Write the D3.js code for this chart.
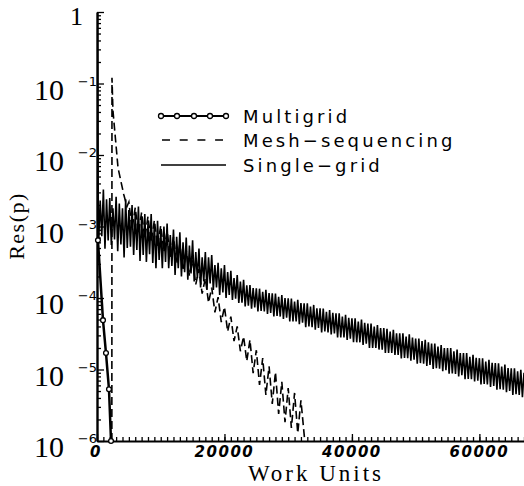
<!DOCTYPE html>
<html>
<head>
<meta charset="UTF-8">
<title>Res(p) vs Work Units</title>
<style>
  body { margin: 0; background: #fff; }
  svg { display: block; }
</style>
</head>
<body>
<div id="chart"></div>
<script src="https://d3js.org/d3.v7.min.js"></script>
<script>
// Multigrid (line with circles)
var mgWork = [0, 150, 940, 1410, 1880, 2200];
var mgRes = [1, 6.4e-4, 4.9e-5, 1.7e-5, 5.3e-6, 1.0e-6];

// Mesh-sequencing (dashed)
var msWork = [2330, 2350, 2500, 2800, 3300, 3700, 4200, 4700,
  5000, 5500, 6000, 6500, 7000, 7500, 8000, 8500, 9000, 9500,
  10000, 10500, 11000, 11500, 12000, 12500, 13000, 13500, 14000, 14500,
  15000, 15500, 16000, 16500, 17000, 17500, 18000, 18500, 19000, 19500,
  20000, 20500, 21000, 21500, 22000, 22500, 23000, 23500, 24000, 24500,
  25000, 25500, 26000, 26500, 27000, 27500, 28000, 28500, 29000, 29500,
  30000, 30500, 31000, 31500, 32000, 32600];
var msRes = [1.0e-6, 0.12, 0.042, 0.021, 6.6e-3, 4.5e-3, 2.8e-3, 1.9e-3,
  2.2e-3, 9.1e-4, 1.84e-3, 7.9e-4, 1.57e-3, 6.8e-4, 1.38e-3, 6.0e-4, 1.22e-3, 5.2e-4,
  1.03e-3, 4.4e-4, 8.7e-4, 3.7e-4, 7.1e-4, 3.0e-4, 5.7e-4, 2.4e-4, 4.6e-4, 2.05e-4,
  3.4e-4, 1.55e-4, 2.55e-4, 1.15e-4, 1.89e-4, 8.6e-5, 1.40e-4, 6.3e-5, 1.03e-4, 4.6e-5,
  7.5e-5, 3.4e-5, 5.5e-5, 2.5e-5, 4.0e-5, 1.8e-5, 2.9e-5, 1.31e-5, 2.6e-5, 8.9e-6,
  1.86e-5, 6.1e-6, 1.44e-5, 4.4e-6, 1.11e-5, 3.3e-6, 9.2e-6, 2.4e-6, 6.7e-6, 1.84e-6,
  5.5e-6, 1.52e-6, 4.7e-6, 1.29e-6, 3.7e-6, 1.0e-6];

// Single-grid (thin solid): peaks every 500 work units, troughs half way between
var sgStep = 500;
var sgPeaks = [3.2e-3, 2.3e-3, 3.3e-3, 2.4e-3, 2.5e-3, 1.8e-3, 2.6e-3, 2.1e-3, 1.8e-3, 2.4e-3, 1.7e-3,
  2.0e-3, 1.5e-3, 1.9e-3, 1.4e-3, 1.5e-3, 1.1e-3, 1.5e-3, 1.1e-3, 1.2e-3, 8.9e-4, 1.0e-3, 1.1e-3,
  7.6e-4, 9.1e-4, 7.2e-4, 8.3e-4,
  6.0e-4, 7.0e-4, 5.4e-4, 6.4e-4, 4.4e-4, 4.9e-4, 3.7e-4, 4.4e-4, 3.7e-4, 4.0e-4, 2.9e-4,
  3.1e-4, 2.6e-4, 2.9e-4, 2.3e-4, 2.4e-4, 1.9e-4, 2.1e-4, 1.7e-4, 1.8e-4, 1.5e-4,
  1.52e-4, 1.38e-4, 1.37e-4, 1.35e-4, 1.22e-4, 1.30e-4, 1.17e-4, 1.16e-4, 1.15e-4, 1.04e-4,
  1.10e-4, 1.00e-4, 9.9e-5, 9.8e-5, 8.9e-5, 9.4e-5, 8.5e-5, 8.4e-5, 8.4e-5, 7.6e-5,
  8.0e-5, 7.2e-5, 7.2e-5, 7.1e-5, 6.4e-5, 6.8e-5, 6.2e-5, 6.1e-5, 6.1e-5, 5.5e-5,
  5.8e-5, 5.3e-5, 5.2e-5, 5.2e-5, 4.7e-5, 5.0e-5, 4.5e-5, 4.4e-5, 4.4e-5, 4.0e-5,
  4.2e-5, 3.8e-5, 3.8e-5, 3.7e-5, 3.4e-5, 3.6e-5, 3.2e-5, 3.2e-5, 3.2e-5, 2.9e-5,
  3.1e-5, 2.8e-5, 2.7e-5, 2.7e-5, 2.5e-5, 2.6e-5, 2.4e-5, 2.3e-5, 2.3e-5, 2.1e-5,
  2.2e-5, 2.0e-5, 2.0e-5, 2.0e-5, 1.8e-5, 1.9e-5, 1.7e-5, 1.7e-5, 1.7e-5, 1.5e-5,
  1.6e-5, 1.46e-5, 1.44e-5, 1.43e-5, 1.29e-5, 1.37e-5, 1.24e-5, 1.23e-5, 1.22e-5, 1.10e-5,
  1.17e-5, 1.05e-5, 1.04e-5, 1.04e-5, 9.4e-6, 9.9e-6, 9.0e-6];
var sgTroughs = [5.9e-4, 7.3e-4, 4.9e-4, 6.4e-4, 5.5e-4, 6.6e-4, 4.5e-4, 5.6e-4, 3.7e-4, 5.0e-4, 5.2e-4,
  4.0e-4, 4.7e-4, 3.3e-4, 4.0e-4, 3.2e-4, 4.1e-4, 3.1e-4, 2.6e-4, 3.4e-4, 2.6e-4, 3.2e-4, 2.6e-4,
  2.8e-4, 2.1e-4, 2.6e-4, 2.0e-4,
  2.3e-4, 1.8e-4, 2.2e-4, 1.7e-4, 1.9e-4, 1.4e-4, 1.7e-4, 1.3e-4, 1.6e-4, 1.3e-4, 1.4e-4,
  1.1e-4, 1.2e-4, 1.0e-4, 1.1e-4, 9.4e-5, 9.8e-5, 8.5e-5, 8.6e-5, 7.6e-5, 7.8e-5,
  7.1e-5, 7.4e-5, 6.5e-5, 6.6e-5, 6.5e-5, 6.0e-5, 6.2e-5, 5.5e-5, 5.6e-5, 5.5e-5,
  5.1e-5, 5.3e-5, 4.7e-5, 4.7e-5, 4.7e-5, 4.3e-5, 4.5e-5, 3.9e-5, 4.0e-5, 3.9e-5,
  3.6e-5, 3.8e-5, 3.3e-5, 3.4e-5, 3.3e-5, 3.1e-5, 3.2e-5, 2.8e-5, 2.8e-5, 2.8e-5,
  2.6e-5, 2.7e-5, 2.4e-5, 2.4e-5, 2.4e-5, 2.2e-5, 2.3e-5, 2.0e-5, 2.0e-5, 2.0e-5,
  1.9e-5, 1.9e-5, 1.7e-5, 1.7e-5, 1.7e-5, 1.6e-5, 1.6e-5, 1.43e-5, 1.45e-5, 1.44e-5,
  1.33e-5, 1.37e-5, 1.21e-5, 1.23e-5, 1.21e-5, 1.12e-5, 1.16e-5, 1.02e-5, 1.04e-5, 1.03e-5,
  9.5e-6, 9.8e-6, 8.7e-6, 8.8e-6, 8.7e-6, 8.0e-6, 8.3e-6, 7.3e-6, 7.4e-6, 7.3e-6,
  6.8e-6, 7.0e-6, 6.2e-6, 6.3e-6, 6.2e-6, 5.7e-6, 5.9e-6, 5.2e-6, 5.3e-6, 5.2e-6,
  4.8e-6, 5.0e-6, 4.4e-6, 4.5e-6, 4.4e-6, 4.1e-6];

var yDecades = [1, 1e-1, 1e-2, 1e-3, 1e-4, 1e-5, 1e-6];
var yExponents = ["", "\u22121", "\u22122", "\u22123", "\u22124", "\u22125", "\u22126"];
var xTicks = [0, 20000, 40000, 60000];
var legendNames = ["Multigrid", "Mesh\u2212sequencing", "Single\u2212grid"];

var width = 524, height = 486;

var x = d3.scaleLinear().domain([0, 67000]).range([97, 524]);
var y = d3.scaleLog().domain([1e-6, 1]).range([441, 12]);

var svg = d3.select("#chart").append("svg")
    .attr("width", width)
    .attr("height", height);

svg.append("clipPath").attr("id", "plotclip")
    .append("rect")
    .attr("x", 97).attr("y", 12)
    .attr("width", 427).attr("height", 430);

var line = d3.line()
    .x(function(d) { return x(d[0]); })
    .y(function(d) { return y(d[1]); });

// single-grid points
var sgPts = [];
sgPeaks.forEach(function(v, i) {
    sgPts.push([i * sgStep, v]);
    if (i < sgTroughs.length) sgPts.push([i * sgStep + sgStep / 2, sgTroughs[i]]);
});
var msPts = msWork.map(function(w, i) { return [w, msRes[i]]; });
var mgPts = mgWork.map(function(w, i) { return [w, mgRes[i]]; });

var plot = svg.append("g").attr("clip-path", "url(#plotclip)");

plot.append("path")
    .datum(sgPts)
    .attr("fill", "none")
    .attr("stroke", "#000")
    .attr("stroke-width", 1.6)
    .attr("d", line);

plot.append("path")
    .datum(msPts)
    .attr("fill", "none")
    .attr("stroke", "#000")
    .attr("stroke-width", 1.6)
    .attr("stroke-dasharray", "8,4")
    .attr("d", line);

plot.append("path")
    .datum(mgPts)
    .attr("fill", "none")
    .attr("stroke", "#000")
    .attr("stroke-width", 2.5)
    .attr("d", line);

// axes
var minorY = [];
yDecades.slice(1).forEach(function(d) {
    for (var k = 2; k < 10; k++) minorY.push(d * k);
});

svg.append("g")
    .attr("transform", "translate(97,0)")
    .call(d3.axisLeft(y).tickValues(minorY).tickSize(-4).tickFormat(""))
    .call(function(g) { g.select(".domain").remove(); });

svg.append("g")
    .attr("transform", "translate(97,0)")
    .call(d3.axisLeft(y).tickValues(yDecades).tickSizeInner(-7).tickSizeOuter(0).tickFormat(""))
    .call(function(g) { g.select(".domain").attr("stroke-width", 2.4); });

svg.append("g")
    .attr("transform", "translate(0,441)")
    .call(d3.axisBottom(x).tickValues(d3.range(0, 67001, 1000)).tickSize(-4).tickFormat(""))
    .call(function(g) { g.select(".domain").remove(); });

svg.append("g")
    .attr("transform", "translate(0,441)")
    .call(d3.axisBottom(x).tickValues(xTicks).tickSizeInner(-7).tickSizeOuter(0).tickFormat(""))
    .call(function(g) { g.select(".domain").attr("stroke-width", 2.2); });

svg.selectAll(".tick line").attr("stroke-width", 1.3);

// multigrid markers (not clipped)
svg.append("g").selectAll("circle")
    .data(mgPts.slice(1))
    .join("circle")
    .attr("cx", function(d) { return x(d[0]); })
    .attr("cy", function(d) { return y(d[1]); })
    .attr("r", 2.4)
    .attr("fill", "#fff")
    .attr("stroke", "#000")
    .attr("stroke-width", 1.3);

// y labels
var ylab = svg.append("g");
yDecades.forEach(function(d, i) {
    if (i === 0) {
        ylab.append("text")
            .attr("x", 83).attr("y", y(d) + 13)
            .attr("text-anchor", "end")
            .style("font-family", "'Liberation Serif', serif")
            .style("font-size", "26px")
            .text("1");
        return;
    }
    ylab.append("text")
        .attr("x", 64).attr("y", y(d) + 16)
        .attr("text-anchor", "end")
        .style("font-family", "'Liberation Serif', serif")
        .style("font-size", "30px")
        .text("10");
    ylab.append("text")
        .attr("x", 97).attr("y", y(d) + 2)
        .attr("text-anchor", "end")
        .style("font-family", "'DejaVu Sans', sans-serif")
        .style("font-size", "13px")
        .text(yExponents[i]);
});

// x labels
svg.append("g").selectAll("text")
    .data(xTicks)
    .join("text")
    .attr("x", function(d) { return x(d) - (d === 0 ? 1 : 0); })
    .attr("y", 457)
    .attr("text-anchor", "middle")
    .style("font-family", "'DejaVu Sans', sans-serif")
    .style("font-weight", "bold")
    .style("font-style", "italic")
    .style("font-size", "15px")
    .style("letter-spacing", "1.5px")
    .text(function(d) { return d; });

svg.append("text")
    .attr("x", 316).attr("y", 481)
    .attr("text-anchor", "middle")
    .style("font-family", "'Liberation Serif', serif")
    .style("font-size", "23px")
    .style("letter-spacing", "3px")
    .text("Work Units");

svg.append("text")
    .attr("transform", "translate(24,226) rotate(-90)")
    .attr("text-anchor", "middle")
    .style("font-family", "'Liberation Serif', serif")
    .style("font-size", "22px")
    .style("letter-spacing", "1.5px")
    .text("Res(p)");

// legend
var legY = [116, 140, 165];
var leg = svg.append("g");
leg.append("line")
    .attr("x1", 161).attr("x2", 226).attr("y1", legY[0]).attr("y2", legY[0])
    .attr("stroke", "#000").attr("stroke-width", 2.2);
leg.selectAll("circle")
    .data([161, 177, 194, 210, 226])
    .join("circle")
    .attr("cx", function(d) { return d; })
    .attr("cy", legY[0])
    .attr("r", 2.5)
    .attr("fill", "#fff")
    .attr("stroke", "#000")
    .attr("stroke-width", 1.3);
leg.append("line")
    .attr("x1", 162).attr("x2", 223).attr("y1", legY[1]).attr("y2", legY[1])
    .attr("stroke", "#000").attr("stroke-width", 1.5)
    .attr("stroke-dasharray", "8,9.7");
leg.append("line")
    .attr("x1", 161).attr("x2", 226).attr("y1", legY[2]).attr("y2", legY[2])
    .attr("stroke", "#000").attr("stroke-width", 1.4);
leg.selectAll("text")
    .data(legendNames)
    .join("text")
    .attr("x", 243)
    .attr("y", function(d, i) { return legY[i] + 7; })
    .style("font-family", "'DejaVu Sans', sans-serif")
    .style("font-size", "18px")
    .style("letter-spacing", "3.1px")
    .text(function(d) { return d; });
</script>
</body>
</html>
